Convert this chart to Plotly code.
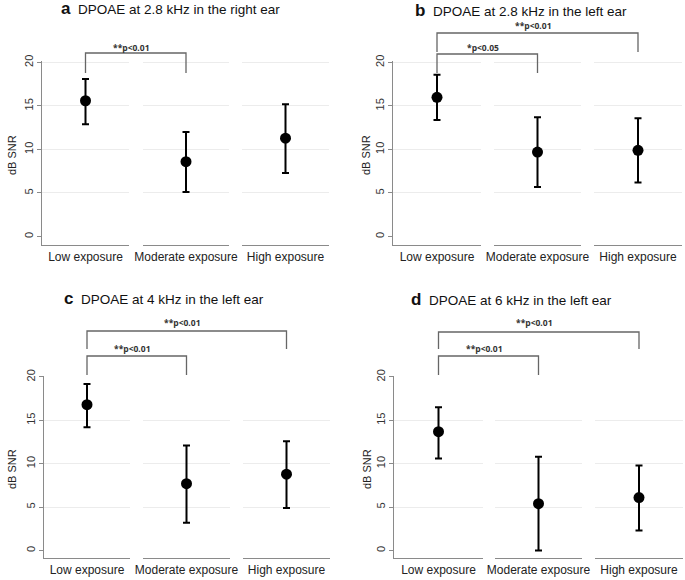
import plotly.graph_objects as go

# Datos: media y límites del intervalo (dB SNR) por grupo de exposición
categorias = ["Low exposure", "Moderate exposure", "High exposure"]

titulos = ["DPOAE at 2.8 kHz in the right ear", "DPOAE at 2.8 kHz in the left ear",
           "DPOAE at 4 kHz in the left ear", "DPOAE at 6 kHz in the left ear"]
letras = ["a", "b", "c", "d"]

media_a = [15.6, 8.6, 11.3]
inf_a = [12.9, 5.1, 7.3]
sup_a = [18.1, 12.0, 15.2]

media_b = [16.0, 9.7, 9.9]
inf_b = [13.4, 5.7, 6.2]
sup_b = [18.6, 13.7, 13.6]

media_c = [16.8, 7.7, 8.8]
inf_c = [14.2, 3.2, 4.9]
sup_c = [19.2, 12.1, 12.6]

media_d = [13.7, 5.4, 6.1]
inf_d = [10.6, 0.0, 2.3]
sup_d = [16.5, 10.8, 9.8]

# comparaciones: (grupo inicial, grupo final, etiqueta)
comp_a = [(0, 1, "**p<0.01")]
comp_b = [(0, 1, "*p<0.05"), (0, 2, "**p<0.01")]
comp_c = [(0, 1, "**p<0.01"), (0, 2, "**p<0.01")]
comp_d = [(0, 1, "**p<0.01"), (0, 2, "**p<0.01")]

medias = [media_a, media_b, media_c, media_d]
inferiores = [inf_a, inf_b, inf_c, inf_d]
superiores = [sup_a, sup_b, sup_c, sup_d]
comparaciones = [comp_a, comp_b, comp_c, comp_d]

# Geometría en píxeles
W, H = 685, 580
sub_x = [
    [(42, 129), (143, 229), (242, 329)],
    [(393, 481), (494, 581), (594, 682)],
    [(44, 130), (143, 230), (243, 330)],
    [(394, 483), (495, 582), (595, 683)],
]
filas = [(61, 245, [-0.98, 20.17]), (61, 245, [-0.98, 20.17]),
         (376, 558, [-0.86, 20.11]), (376, 558, [-0.86, 20.11])]
titulo_pos = [(170, 9), (521, 10), (164, 298), (512, 299)]
ytitulo_x = [12, 366, 12, 367]
# alturas de corchetes: (y horizontal, y final, y etiqueta) por comparación
corchetes = [
    [(53, 73, 47)],
    [(54, 73, 47), (33, 52, 25)],
    [(356, 375, 348), (331, 349, 323)],
    [(356, 375, 348), (332, 349, 323)],
]

def px(x):
    return x / W

def py(y):
    return 1 - y / H

fig = go.Figure()
layout = {}
shapes = []
annotations = []
gris = "#8a8a8a"

for p in range(4):
    top, bot, yr = filas[p]
    ya = "yaxis" if p == 0 else f"yaxis{p + 1}"
    yref = "y" if p == 0 else f"y{p + 1}"
    first_x = p * 3 + 1
    layout[ya] = dict(
        domain=[py(bot), py(top)], range=yr, anchor="x" if first_x == 1 else f"x{first_x}",
        automargin=False,
        showline=True, linecolor=gris, linewidth=1.2,
        tickvals=[0, 5, 10, 15, 20], ticks="outside", ticklen=4, tickcolor=gris,
        tickangle=-90, tickfont=dict(size=11, color="#333", family="Liberation Sans"),
        showgrid=False, zeroline=False,
        minor=dict(tickvals=[5, 10, 15, 20], showgrid=True, gridcolor="#ececec",
                   gridwidth=1, ticks=""),
    )
    for k in range(3):
        idx = p * 3 + k + 1
        xa = "xaxis" if idx == 1 else f"xaxis{idx}"
        xref = "x" if idx == 1 else f"x{idx}"
        a, b = sub_x[p][k]
        layout[xa] = dict(
            domain=[px(a), px(b)], anchor=yref, type="category", range=[-0.5, 0.5],
            automargin=False,
            showline=True, linecolor=gris, linewidth=1.2, ticks="", showgrid=False,
            tickfont=dict(size=12, color="#222", family="Liberation Sans"),
        )
        m = medias[p][k]
        fig.add_trace(go.Scatter(
            x=[categorias[k]], y=[m], xaxis=xref, yaxis=yref, mode="markers",
            marker=dict(color="black", size=11),
            error_y=dict(type="data", symmetric=False,
                         array=[superiores[p][k] - m], arrayminus=[m - inferiores[p][k]],
                         color="black", thickness=2, width=3.5),
            showlegend=False, hoverinfo="skip",
        ))

    tx, ty = titulo_pos[p]
    annotations.append(dict(
        x=px(tx), y=py(ty), xref="paper", yref="paper", showarrow=False,
        text=f"<span style='font-size:17px'><b>{letras[p]}</b></span>  {titulos[p]}",
        font=dict(size=13.5, color="#111", family="Liberation Sans"),
        xanchor="center", yanchor="middle",
    ))
    annotations.append(dict(
        x=px(ytitulo_x[p]), y=py((top + bot) / 2 + 2), xref="paper", yref="paper",
        showarrow=False, text="dB SNR", textangle=-90,
        font=dict(size=11, color="#222", family="Liberation Sans"),
        xanchor="center", yanchor="middle",
    ))

    for (i, j, etiqueta), (yh, yf, ye) in zip(comparaciones[p], corchetes[p]):
        xi = sum(sub_x[p][i]) / 2
        xj = sum(sub_x[p][j]) / 2
        shapes.append(dict(
            type="path", xref="paper", yref="paper",
            path=f"M {px(xi)} {py(yf)} L {px(xi)} {py(yh)} L {px(xj)} {py(yh)} L {px(xj)} {py(yf)}",
            line=dict(color="#666", width=1.3),
        ))
        annotations.append(dict(
            x=px((xi + xj) / 2 - 4), y=py(ye), xref="paper", yref="paper", showarrow=False,
            text=f"<b>{etiqueta}</b>", font=dict(size=8.5, color="#333", family="Open Sans"),
            xanchor="center", yanchor="middle",
        ))

fig.update_layout(
    width=W, height=H, margin=dict(l=0, r=0, t=0, b=0, autoexpand=False),
    plot_bgcolor="white", paper_bgcolor="white",
    shapes=shapes, annotations=annotations, showlegend=False,
    **layout,
)

# quitar el margen por defecto del body para que la figura ocupe toda la ventana
fig.write_html("out.html", config={"displayModeBar": False},
               post_script="document.body.style.margin='0';")
